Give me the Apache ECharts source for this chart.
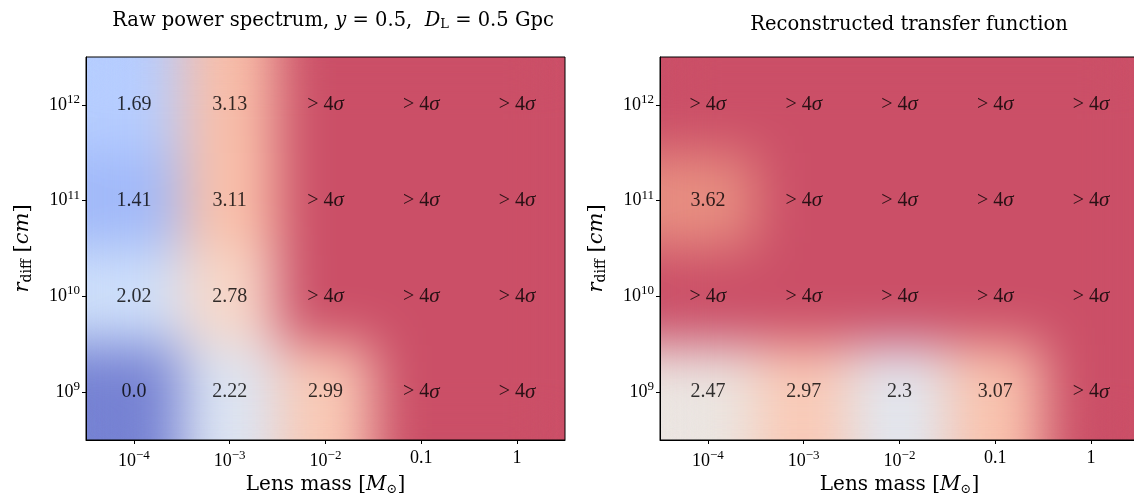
<!DOCTYPE html>
<html>
<head>
<meta charset="utf-8">
<script src="https://cdn.jsdelivr.net/npm/echarts@6/dist/echarts.min.js"></script>
<style>
  html, body { margin:0; padding:0; width:1134px; height:493px; overflow:hidden; background:#fff; }
  .layer { position:absolute; }
  .heat { filter: url(#smooth); }
</style>
</head>
<body>
<svg width="0" height="0" style="position:absolute">
  <defs>
    <filter id="smooth" x="0" y="0" width="1" height="1" color-interpolation-filters="sRGB">
      <feGaussianBlur stdDeviation="26"/>
      <feComponentTransfer><feFuncA type="table" tableValues="1 1"/></feComponentTransfer>
    </filter>
  </defs>
</svg>
<div id="heatL" class="layer heat" style="left:86px;top:57px;width:479px;height:383px;"></div>
<div id="heatR" class="layer heat" style="left:660px;top:57px;width:479px;height:383px;"></div>
<div id="main" class="layer" style="left:0;top:0;width:1134px;height:493px;z-index:5;"></div>
<script>
// ---- data ----
const X_CATEGORIES = ['1e-4', '1e-3', '1e-2', '0.1', '1'];          // lens mass [M_sun]
const Y_CATEGORIES = ['1e9', '1e10', '1e11', '1e12'];               // r_diff [cm], bottom -> top
const X_TICK_LABELS = ['10^−4', '10^−3', '10^−2', '0.1', '1'];
const Y_TICK_LABELS = ['10^9', '10^10', '10^11', '10^12'];
// '>4' means "> 4 sigma"
const RAW_ROW_1E9  = [0.0, 2.22, 2.99, '>4', '>4'];
const RAW_ROW_1E10 = [2.02, 2.78, '>4', '>4', '>4'];
const RAW_ROW_1E11 = [1.41, 3.11, '>4', '>4', '>4'];
const RAW_ROW_1E12 = [1.69, 3.13, '>4', '>4', '>4'];
const REC_ROW_1E9  = [2.47, 2.97, 2.3, 3.07, '>4'];
const REC_ROW_1E10 = ['>4', '>4', '>4', '>4', '>4'];
const REC_ROW_1E11 = [3.62, '>4', '>4', '>4', '>4'];
const REC_ROW_1E12 = ['>4', '>4', '>4', '>4', '>4'];
const RAW_ROWS = [RAW_ROW_1E9, RAW_ROW_1E10, RAW_ROW_1E11, RAW_ROW_1E12];
const REC_ROWS = [REC_ROW_1E9, REC_ROW_1E10, REC_ROW_1E11, REC_ROW_1E12];
const VMIN = 0.8, VMAX = 4;

// ---- colormap (coolwarm, drawn at alpha 0.7 on white) ----
const COOLWARM = [
 [59,76,192],[68,90,204],[77,104,215],[87,117,225],[98,130,234],[108,142,241],[119,154,247],[130,165,251],
 [141,176,254],[152,185,255],[163,194,255],[174,201,253],[184,208,249],[194,213,244],[204,217,238],[213,219,230],
 [221,221,221],[229,216,209],[236,211,197],[241,204,185],[245,196,173],[247,187,160],[247,177,148],[247,166,135],
 [244,154,123],[241,141,111],[236,127,99],[229,112,88],[222,96,77],[213,80,66],[203,62,56],[192,40,47],[180,4,38]
];
const ALPHA = 0.7;
const CMAP = COOLWARM.map(c => 'rgb(' + c.map(v => Math.round(ALPHA * v + (1 - ALPHA) * 255)).join(',') + ')');

function numeric(v) { return v === '>4' ? VMAX : Math.max(VMIN, Math.min(VMAX, v)); }
function display(v) {
  if (v === '>4') return '{t|> 4}{i|σ}';
  return '{t|' + (v === 0 ? '0.0' : String(v)) + '}';
}
function toHeat(rows) {
  const out = [];
  rows.forEach((row, yi) => row.forEach((v, xi) => out.push([xi, yi, numeric(v)])));
  return out;
}
function toLabels(rows) {
  const out = [];
  rows.forEach((row, yi) => row.forEach((v, xi) => out.push({ value: [xi, yi], label: { formatter: display(v) } })));
  return out;
}
function tickRich(s) {
  const p = s.split('^');
  return p.length === 2 ? '{b|' + p[0] + '}{s|' + p[1] + '}' : '{b|' + s + '}';
}

const NUM_FONT = 'Liberation Serif';
const TXT_FONT = 'DejaVu Serif';

function heatOption(rows) {
  return {
    animation: false,
    grid: { left: 0, right: 0, top: 0, bottom: 0, outerBoundsMode: 'none' },
    xAxis: { type: 'category', data: X_CATEGORIES, show: false },
    yAxis: { type: 'category', data: Y_CATEGORIES, show: false },
    visualMap: { show: false, min: VMIN, max: VMAX, inRange: { color: CMAP } },
    series: [{ type: 'heatmap', data: toHeat(rows), itemStyle: { borderWidth: 0 }, emphasis: { disabled: true } }]
  };
}
echarts.init(document.getElementById('heatL'), null, { renderer: 'canvas' }).setOption(heatOption(RAW_ROWS));
echarts.init(document.getElementById('heatR'), null, { renderer: 'canvas' }).setOption(heatOption(REC_ROWS));

const GRIDS = [
  { left: 86, top: 57, width: 479, height: 383 },
  { left: 660, top: 57, width: 479, height: 383 }
];
const tickRichStyle = {
  b: { fontFamily: NUM_FONT, fontSize: 18, color: '#000' },
  s: { fontFamily: NUM_FONT, fontSize: 13, color: '#000', padding: [0, 0, 11, 0] }
};
function xAxis(i) {
  return {
    type: 'category', gridIndex: i, data: X_CATEGORIES,
    axisLine: { show: true, lineStyle: { color: '#000', width: 1 } },
    axisTick: { show: true, alignWithLabel: true, length: 4, lineStyle: { color: '#000' } },
    axisLabel: { margin: 9, formatter: (v, idx) => tickRich(X_TICK_LABELS[idx]), rich: tickRichStyle },
    splitLine: { show: false },
    name: 'Lens mass [{i|M}{sub|⊙}]', nameLocation: 'middle', nameGap: 30,
    nameTextStyle: { fontFamily: TXT_FONT, fontSize: 20, color: '#000',
      rich: { i: { fontFamily: TXT_FONT, fontStyle: 'italic', fontSize: 20, color: '#000' },
              sub: { fontFamily: TXT_FONT, fontSize: 13, color: '#000', padding: [9, 0, 0, 0] } } }
  };
}
function yAxis(i) {
  return {
    type: 'category', gridIndex: i, data: Y_CATEGORIES,
    axisLine: { show: true, lineStyle: { color: '#000', width: 1 } },
    axisTick: { show: true, alignWithLabel: true, length: 4, lineStyle: { color: '#000' } },
    axisLabel: { margin: 6, formatter: (v, idx) => tickRich(Y_TICK_LABELS[idx]), rich: tickRichStyle },
    splitLine: { show: false },
    name: '{i|r}{sub|diff} [{i|cm}]', nameLocation: 'middle', nameRotate: 90, nameGap: 52,
    nameTextStyle: { fontFamily: TXT_FONT, fontSize: 21, color: '#000',
      rich: { i: { fontFamily: TXT_FONT, fontStyle: 'italic', fontSize: 21, color: '#000' },
              sub: { fontFamily: TXT_FONT, fontSize: 14, color: '#000', padding: [9, 0, 0, 0] } } }
  };
}
function labelSeries(i, rows) {
  return {
    type: 'scatter', xAxisIndex: i, yAxisIndex: i, symbolSize: 1,
    itemStyle: { color: 'rgba(0,0,0,0)' }, silent: true,
    label: { show: true, position: 'inside', color: '#000',
      rich: { t: { fontFamily: NUM_FONT, fontSize: 20, color: '#000' },
              i: { fontFamily: NUM_FONT, fontStyle: 'italic', fontSize: 21, color: '#000' } } },
    data: toLabels(rows)
  };
}
const titleRich = {
  i: { fontFamily: TXT_FONT, fontStyle: 'italic', fontSize: 19.5, color: '#000' },
  sub: { fontFamily: TXT_FONT, fontSize: 13, color: '#000', padding: [8, 0, 0, 0] }
};
const chart = echarts.init(document.getElementById('main'), null, { renderer: 'canvas' });
chart.setOption({
  animation: false,
  backgroundColor: 'transparent',
  title: [
    { text: 'Raw power spectrum, {i|y} = 0.5,  {i|D}{sub|L} = 0.5 Gpc', left: 328, top: 5, textAlign: 'center',
      textStyle: { fontFamily: TXT_FONT, fontWeight: 'normal', fontSize: 19.5, color: '#000', rich: titleRich } },
    { text: 'Reconstructed transfer function', left: 904, top: 10, textAlign: 'center',
      textStyle: { fontFamily: TXT_FONT, fontWeight: 'normal', fontSize: 19.5, color: '#000' } }
  ],
  grid: GRIDS.map(g => Object.assign({ show: true, borderColor: '#000', borderWidth: 1, backgroundColor: 'transparent', outerBoundsMode: 'none', containLabel: false }, g)),
  xAxis: [xAxis(0), xAxis(1)],
  yAxis: [yAxis(0), yAxis(1)],
  series: [labelSeries(0, RAW_ROWS), labelSeries(1, REC_ROWS)]
});
</script>
</body>
</html>
